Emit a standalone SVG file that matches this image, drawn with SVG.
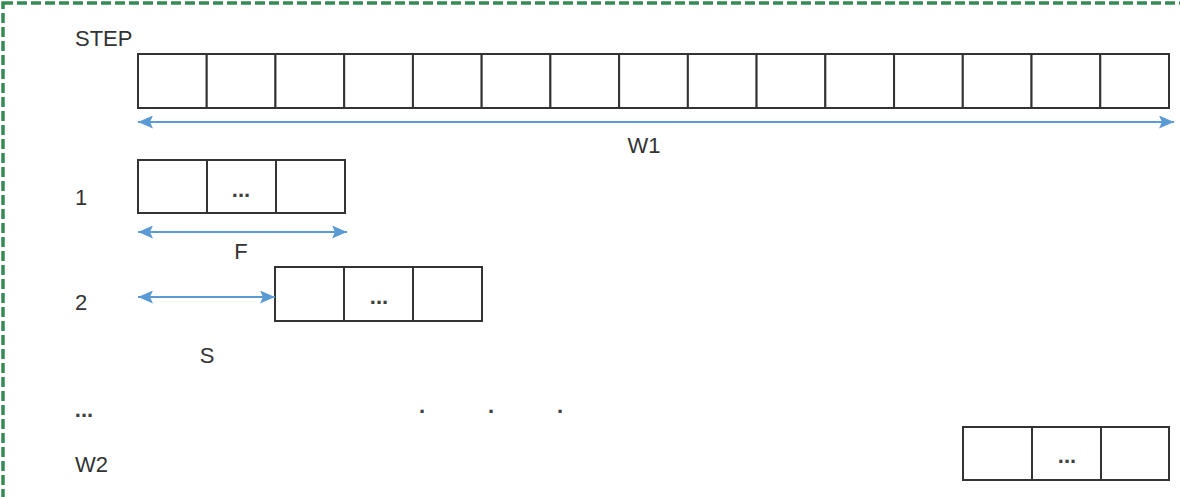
<svg xmlns="http://www.w3.org/2000/svg" width="1180" height="497" viewBox="0 0 1180 497">
<style>
.cell{fill:#ffffff;stroke:#333333;stroke-width:2}
.arr{stroke:#5b9bd5;stroke-width:2;fill:none;marker-start:url(#ah);marker-end:url(#ah)}
.lbl{font-family:"Liberation Sans",Arial,sans-serif;font-size:22px;fill:#333333}
.dots{font-family:"Liberation Sans",Arial,sans-serif;font-size:22px;fill:#404040;text-anchor:middle;font-weight:bold}
</style>
<defs>
<marker id="ah" viewBox="0 0 15 13" refX="15" refY="6.5" markerWidth="15" markerHeight="13" markerUnits="userSpaceOnUse" orient="auto-start-reverse">
<path d="M0,0 L15,6.5 L0,13 L3,6.5 z" fill="#5b9bd5"/>
</marker>
</defs>
<rect width="1180" height="497" fill="#ffffff"/>
<rect id="frame" x="3" y="3" width="1220" height="540" fill="none" stroke="#378a55" stroke-width="3.5" stroke-dasharray="10,4"/>

<g id="labels">
<text class="lbl" x="75" y="46">STEP</text>
<text class="lbl" x="75" y="205">1</text>
<text class="lbl" x="75" y="310">2</text>
<text class="dots" x="84" y="417">...</text>
<text class="lbl" x="75" y="472">W2</text>
</g>

<g id="w1-row">
<rect class="cell" x="138" y="54" width="68.73" height="54"/>
<rect class="cell" x="206.73" y="54" width="68.73" height="54"/>
<rect class="cell" x="275.47" y="54" width="68.73" height="54"/>
<rect class="cell" x="344.2" y="54" width="68.73" height="54"/>
<rect class="cell" x="412.93" y="54" width="68.73" height="54"/>
<rect class="cell" x="481.67" y="54" width="68.73" height="54"/>
<rect class="cell" x="550.4" y="54" width="68.73" height="54"/>
<rect class="cell" x="619.13" y="54" width="68.73" height="54"/>
<rect class="cell" x="687.87" y="54" width="68.73" height="54"/>
<rect class="cell" x="756.6" y="54" width="68.73" height="54"/>
<rect class="cell" x="825.33" y="54" width="68.73" height="54"/>
<rect class="cell" x="894.07" y="54" width="68.73" height="54"/>
<rect class="cell" x="962.8" y="54" width="68.73" height="54"/>
<rect class="cell" x="1031.53" y="54" width="68.73" height="54"/>
<rect class="cell" x="1100.27" y="54" width="68.73" height="54"/>
</g>

<g id="step1">
<rect class="cell" x="138" y="160" width="69" height="53"/>
<rect class="cell" x="207" y="160" width="69" height="53"/>
<rect class="cell" x="276" y="160" width="69" height="53"/>
<text class="dots" x="241" y="197">...</text>
</g>

<g id="step2">
<rect class="cell" x="275" y="267" width="69" height="54"/>
<rect class="cell" x="344" y="267" width="69" height="54"/>
<rect class="cell" x="413" y="267" width="69" height="54"/>
<text class="dots" x="379" y="304">...</text>
</g>

<g id="stepW2">
<rect class="cell" x="963" y="427" width="69" height="53"/>
<rect class="cell" x="1032" y="427" width="69" height="53"/>
<rect class="cell" x="1101" y="427" width="68" height="53"/>
<text class="dots" x="1067" y="463">...</text>
</g>

<g id="ellipsis-mid">
<text class="dots" x="422" y="413">.</text>
<text class="dots" x="491" y="413">.</text>
<text class="dots" x="560" y="413">.</text>
</g>

<g id="connectors">
<line class="arr" x1="138" y1="122" x2="1174" y2="122"/>
<line class="arr" x1="138" y1="232" x2="347" y2="232"/>
<line class="arr" x1="138" y1="297" x2="275" y2="297"/>
</g>

<g id="dim-labels">
<text class="lbl" x="644" y="153" text-anchor="middle">W1</text>
<text class="lbl" x="241" y="259" text-anchor="middle">F</text>
<text class="lbl" x="207" y="363" text-anchor="middle">S</text>
</g>
</svg>
